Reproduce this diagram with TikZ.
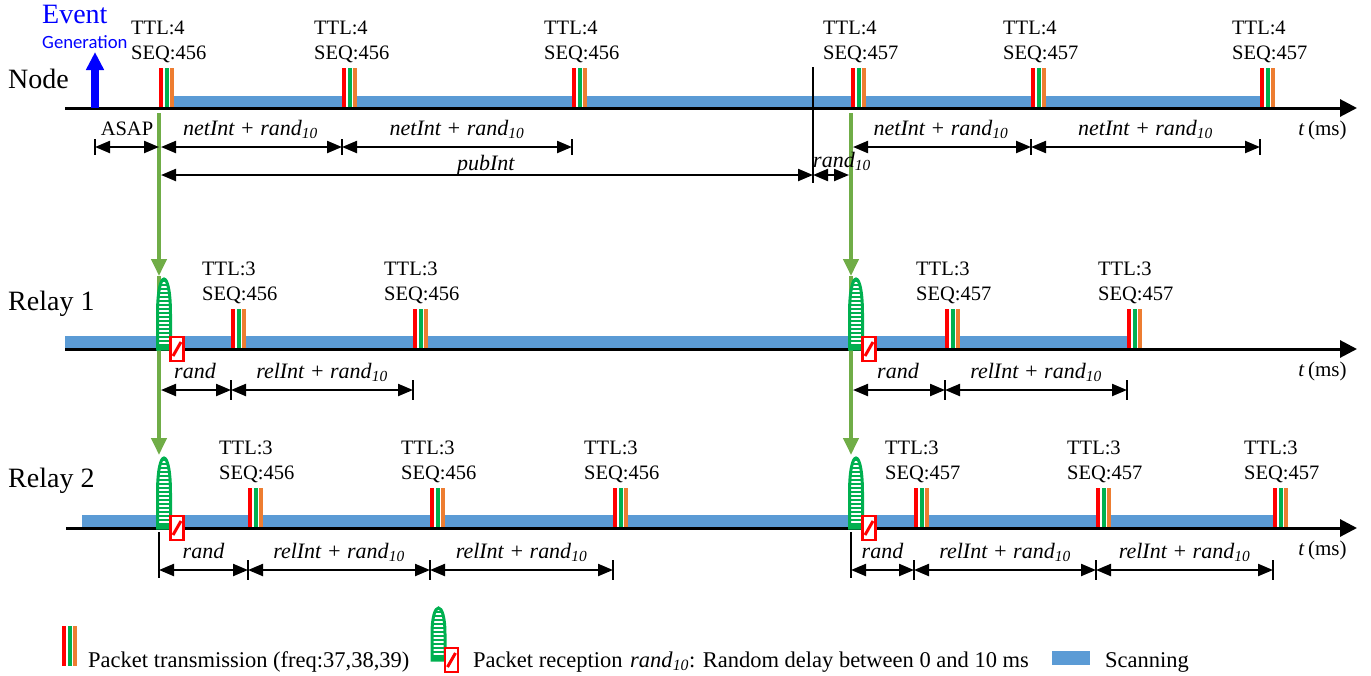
\documentclass[tikz,border=0pt]{standalone}
\usepackage{fontspec}
\setmainfont{Liberation Serif}
\newfontfamily\gensans{Carlito}
\usetikzlibrary{arrows.meta}
\definecolor{scanblue}{RGB}{91,155,213}
\definecolor{txred}{RGB}{255,0,0}
\definecolor{txgreen}{RGB}{0,176,80}
\definecolor{txorange}{RGB}{237,125,49}
\definecolor{fwdgreen}{RGB}{112,173,71}
\newcommand{\randten}{\textit{rand}\textsubscript{\textit{10}}}
\newcommand{\netrand}{\textit{netInt + }\randten}
\newcommand{\relrand}{\textit{relInt + }\randten}
\tikzset{
  pics/tx/.style={code={
    \fill[white] (0,0) rectangle (15,-40);
    \fill[txred] (0,0) rectangle (4,-40);
    \fill[txgreen] (6,0) rectangle (10,-40);
    \fill[txorange] (11,0) rectangle (15,-40);
  }},
  pics/rx/.style={code={
    \pgfmathsetmacro\rxs{#1/2}
    \pgfmathsetmacro\rxc{7*#1/6}
    \fill[txgreen] (0,0) -- (0,-\rxs) .. controls (0,-\rxc) and (13,-\rxc) .. (13,-\rxs) -- (13,0) -- cycle;
    \begin{scope}
      \clip (0,0) -- (0,-\rxs) .. controls (0,-\rxc) and (13,-\rxc) .. (13,-\rxs) -- (13,0) -- cycle;
      \foreach \s in {6,10,...,#1} \draw[white, line width=1.8pt] (0,-\s) -- (13,-\s);
    \end{scope}
    \draw[txgreen, line width=3pt] (0,0) -- (0,-\rxs) .. controls (0,-\rxc) and (13,-\rxc) .. (13,-\rxs) -- (13,0) -- cycle;
    \draw[txred, fill=white, line width=2.5pt] (13,-12) rectangle (26,12);
    \draw[txred, line width=3pt] (15.5,7) -- (23.5,-7);
  }},
}
\begin{document}
\begin{tikzpicture}[x=1pt, y=-1pt,
  axis/.style={line width=3pt, -{Triangle[length=17pt,width=17pt]}},
  dim/.style={{Triangle[length=15pt,width=12pt]}-{Triangle[length=15pt,width=12pt]}, line width=2.2pt},
  dimg/.style={dim, shorten <=2pt},
  dimtick/.style={line width=1.5pt},
  fwd/.style={fwdgreen, line width=4pt, -{Triangle[length=17pt,width=15pt]}},
  evt/.style={blue, line width=8pt, -{Triangle[length=18pt,width=17pt]}},
  lbl/.style={anchor=south west, inner sep=0pt, align=left, font=\fontsize{20.5}{25}\selectfont},
  dl/.style={midway, anchor=base, yshift=12pt, inner sep=0pt, font=\fontsize{22}{26}\selectfont},
  big/.style={anchor=base west, inner sep=0pt, font=\fontsize{28}{32}\selectfont},
  leg/.style={anchor=base west, inner sep=0pt, font=\fontsize{22.5}{26}\selectfont}]
  \useasboundingbox (0,0) rectangle (1371,675);

  % timelines
  \coordinate (axN) at (65,108);  \coordinate (endN) at (1357,108);
  \coordinate (axA) at (65,349);  \coordinate (endA) at (1357,349);
  \coordinate (axB) at (66,528);  \coordinate (endB) at (1357,528);
  \coordinate (ev) at (95,108);
  \coordinate (pub) at (813,108);
  \coordinate (dN1) at (0,147); \coordinate (dN2) at (0,175);
  \coordinate (dA) at (0,390);  \coordinate (dB) at (0,570);

  \node[big] (node) at (8,88) {Node};
  \node[big] (relay1) at (8,310) {Relay 1};
  \node[big] (relay2) at (8,487) {Relay 2};

  % packet times
  \foreach \x/\s [count=\i] in {159/456,342/456,572/456,851/457,1031/457,1260/457}
    \coordinate (n\i) at (\x,108);
  \foreach \x/\s [count=\i] in {231/456,413/456,945/457,1127/457}
    \coordinate (a\i) at (\x,349);
  \foreach \x/\s [count=\i] in {248/456,430/456,613/456,914/457,1096/457,1273/457}
    \coordinate (b\i) at (\x,528);

  % scanning
  \fill[scanblue] ([xshift=15pt]n1) rectangle ([yshift=12pt]n6);
  \fill[scanblue] (axA) rectangle ([yshift=13pt]a4);
  \fill[scanblue] ([xshift=16pt]axB) rectangle ([yshift=13pt]b6);

  \foreach \x/\s [count=\i] in {159/456,342/456,572/456,851/457,1031/457,1260/457} {
    \pic at (n\i) {tx};
    \node[lbl] (tn\i) at ([xshift=-28pt,yshift=45pt]n\i) {TTL:4\\SEQ:\s};
  }
  \foreach \x/\s [count=\i] in {231/456,413/456,945/457,1127/457} {
    \pic at (a\i) {tx};
    \node[lbl] (ta\i) at ([xshift=-29pt,yshift=45pt]a\i) {TTL:3\\SEQ:\s};
  }
  \foreach \x/\s [count=\i] in {248/456,430/456,613/456,914/457,1096/457,1273/457} {
    \pic at (b\i) {tx};
    \node[lbl] (tb\i) at ([xshift=-29pt,yshift=45pt]b\i) {TTL:3\\SEQ:\s};
  }

  \foreach \r in {N,A,B}
    \draw[axis] (ax\r) -- (end\r) node[anchor=base east, xshift=-9pt, yshift=-27pt, inner sep=0pt,
      font=\fontsize{21}{25}\selectfont] (t\r) {\textit{t}\,(ms)};

  % event generation
  \draw[evt] (ev) -- ([yshift=56pt]ev);
  \node[anchor=base west, inner sep=0pt, blue, font=\fontsize{28}{32}\selectfont] (event) at (42,23) {Event};
  \node[anchor=base west, inner sep=0pt, blue, font=\gensans\fontsize{18.7}{22}\selectfont] (gen) at (42,48) {Generation};

  % forwarding
  \coordinate (ra1) at ([yshift=73pt]n1 |- axA); \coordinate (rb1) at ([yshift=73pt]n1 |- axB);
  \coordinate (ra2) at ([yshift=73pt]n4 |- axA); \coordinate (rb2) at ([yshift=73pt]n4 |- axB);
  \draw[fwd] ([yshift=-5pt]n1) -- (ra1);
  \draw[fwd] (ra1) -- (rb1);
  \draw[fwd] ([yshift=-5pt]n4) -- (ra2);
  \draw[fwd] (ra2) -- (rb2);
  \foreach \c in {n1,n4} {
    \pic at ([xshift=-1.5pt]\c |- axA) {rx=70};
    \pic at ([xshift=-1.5pt]\c |- axB) {rx=70};
  }

  % intervals, node
  \draw[line width=1.5pt] ([yshift=41pt]pub) -- ([yshift=-75pt]pub);
  \draw[dim] (ev |- dN1) -- (n1 |- dN1) node[dl, font=\fontsize{20.5}{25}\selectfont] (asap) {ASAP};
  \draw[dimg] (n1 |- dN1) -- (n2 |- dN1) node[dl] (dn1) {\netrand};
  \draw[dim] (n2 |- dN1) -- (n3 |- dN1) node[dl] (dn2) {\netrand};
  \draw[dimg] (n4 |- dN1) -- (n5 |- dN1) node[dl] (dn3) {\netrand};
  \draw[dim] (n5 |- dN1) -- (n6 |- dN1) node[dl] (dn4) {\netrand};
  \draw[dimg] (n1 |- dN2) -- (pub |- dN2) node[dl, yshift=-7pt] (pubint) {\textit{pubInt}};
  \draw[dim, shorten >=2pt] (pub |- dN2) -- (n4 |- dN2);
  \node[anchor=base west, inner sep=0pt, font=\fontsize{22}{26}\selectfont] (rnd) at ([yshift=8pt]pub |- dN2) {\randten};
  \foreach \c in {ev,n2,n3,n5,n6}
    \draw[dimtick] ([yshift=8pt]\c |- dN1) -- ([yshift=-8pt]\c |- dN1);

  % intervals, relay 1
  \draw[dimg] (n1 |- dA) -- (a1 |- dA) node[dl] (da1) {\textit{rand}};
  \draw[dim] (a1 |- dA) -- (a2 |- dA) node[dl] (da2) {\relrand};
  \draw[dimg] (n4 |- dA) -- (a3 |- dA) node[dl] (da3) {\textit{rand}};
  \draw[dim] (a3 |- dA) -- (a4 |- dA) node[dl] (da4) {\relrand};
  \foreach \c in {a1,a2,a3,a4}
    \draw[dimtick] ([yshift=10pt]\c |- dA) -- ([yshift=-10pt]\c |- dA);

  % intervals, relay 2
  \draw[dim] (n1 |- dB) -- (b1 |- dB) node[dl] (db1) {\textit{rand}};
  \draw[dim] (b1 |- dB) -- (b2 |- dB) node[dl] (db2) {\relrand};
  \draw[dim] (b2 |- dB) -- (b3 |- dB) node[dl] (db3) {\relrand};
  \draw[dim] (n4 |- dB) -- (b4 |- dB) node[dl] (db4) {\textit{rand}};
  \draw[dim] (b4 |- dB) -- (b5 |- dB) node[dl] (db5) {\relrand};
  \draw[dim] (b5 |- dB) -- (b6 |- dB) node[dl] (db6) {\relrand};
  \foreach \c in {b1,b2,b3,b4,b5,b6}
    \draw[dimtick] ([yshift=10pt]\c |- dB) -- ([yshift=-10pt]\c |- dB);
  \foreach \c in {n1,n4}
    \draw[dimtick] ([yshift=-4pt]\c |- axB) -- ([yshift=-8pt]\c |- dB);

  % legend
  \pic at (62,666) {tx};
  \node[leg] (lg1) at (88,667) {Packet transmission (freq:37,38,39)};
  \pic at (432,660) {rx=52};
  \node[leg] (lg2) at (473,667) {Packet reception};
  \node[leg] (lg3) at (630,667) {\randten: Random delay between 0 and 10 ms};
  \fill[scanblue] (1052,651) rectangle (1090,665);
  \node[leg] (lg4) at (1105,667) {Scanning};
\end{tikzpicture}
\end{document}
